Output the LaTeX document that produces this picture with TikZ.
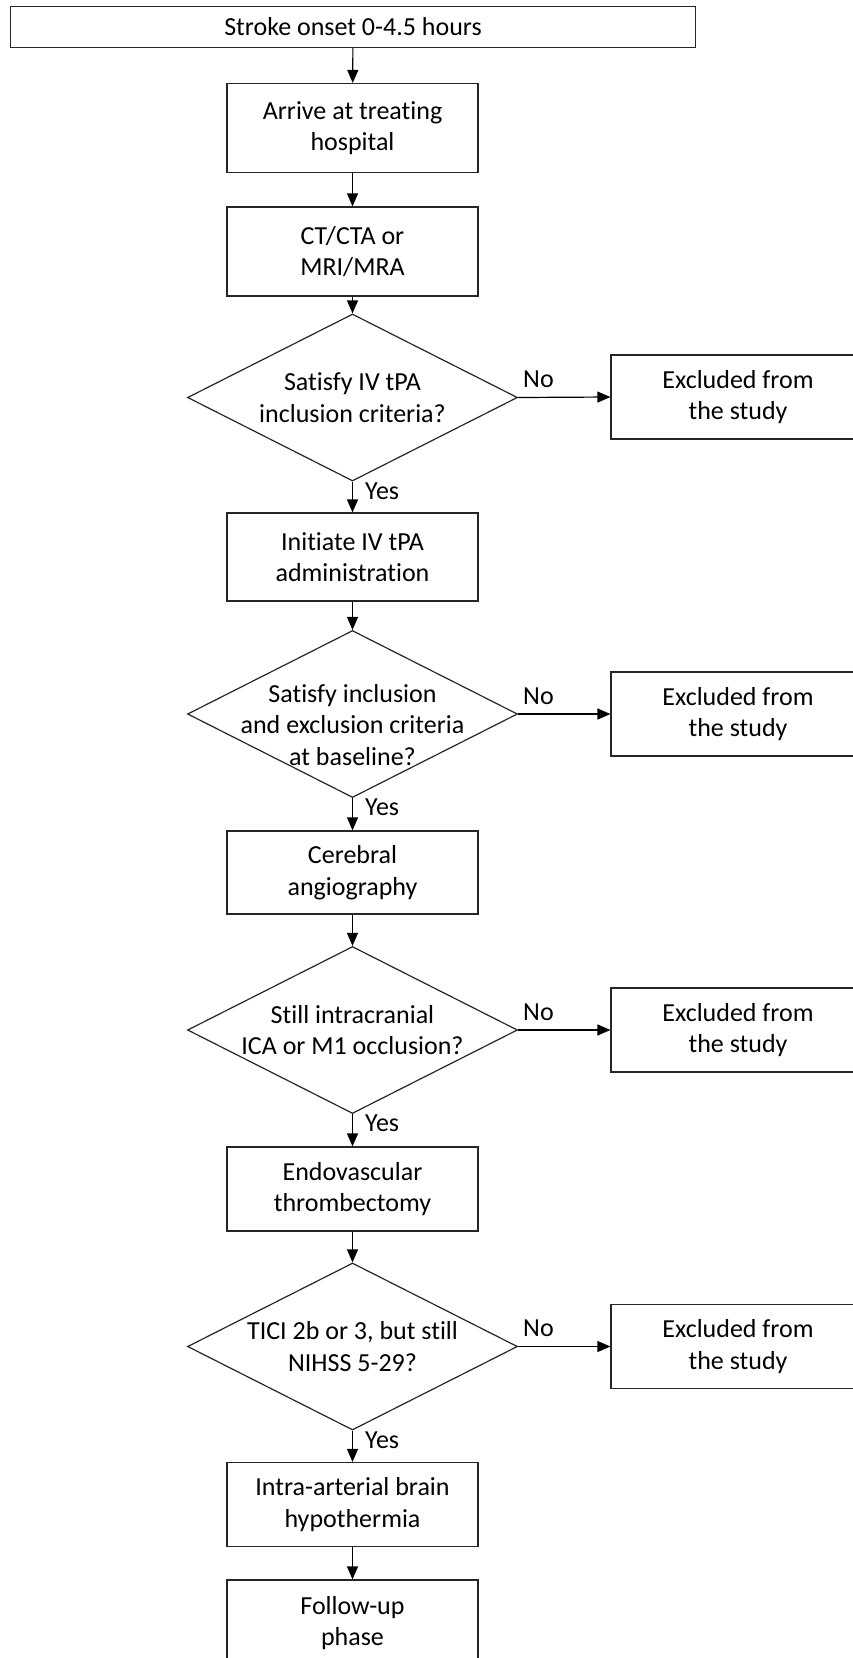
\documentclass[tikz,border=0pt]{standalone}
\usepackage{fontspec}
\setmainfont[Ligatures={NoCommon}]{Carlito}
\usetikzlibrary{shapes.geometric,arrows.meta}
\begin{document}
\begin{tikzpicture}[x=1pt,y=-1pt,
  every node/.style={font=\fontsize{26pt}{31.7pt}\selectfont},
  box/.style={draw=black!85,line width=1.2pt,rectangle,inner sep=0pt,minimum width=251pt,align=center},
  exbox/.style={draw=black!85,line width=1.2pt,rectangle,inner sep=0pt,minimum width=254pt,minimum height=84pt,align=center},
  dec/.style={draw=black!85,line width=1.2pt,diamond,inner sep=0pt,minimum width=330pt,minimum height=167pt},
  dectext/.style={align=center,inner sep=0pt},
  lbl/.style={inner sep=0pt,anchor=base west},
  arr/.style={line width=1.2pt,-{Triangle[length=13pt,width=11pt]}}
]
\useasboundingbox (0,0) rectangle (853,1658);

\node[box,minimum width=685pt,minimum height=41pt] (top) at (353,27) {Stroke onset 0-4.5 hours};
\node[box,minimum height=89pt] (b2) at (352.5,128) {Arrive at treating\\hospital};
\node[box,minimum height=89pt] (b3) at (352.5,251.5) {CT/CTA or\\MRI/MRA};

\node[dec] (d1) at (352.5,397.5) {};
\node[dectext] (d1t) at (d1.center) {Satisfy IV tPA\\inclusion criteria?};
\node[exbox] (e1) at (738,397) {Excluded from\\the study};

\node[box,minimum height=88pt] (b4) at (352.5,557) {Initiate IV tPA\\administration};

\node[dec] (d2) at (352.5,714) {};
\node[dectext] (d2t) at (352.5,725) {Satisfy inclusion\\and exclusion criteria\\at baseline?};
\node[exbox] (e2) at (738,714) {Excluded from\\the study};

\node[box,minimum height=83pt] (b5) at (352.5,872.5) {Cerebral\\angiography};

\node[dec] (d3) at (352.5,1030) {};
\node[dectext] (d3t) at (d3.center) {Still intracranial\\ICA or M1 occlusion?};
\node[exbox] (e3) at (738,1030) {Excluded from\\the study};

\node[box,minimum height=84pt] (b6) at (352.5,1189) {Endovascular\\thrombectomy};

\node[dec] (d4) at (352.5,1346.5) {};
\node[dectext] (d4t) at (d4.center) {TICI 2b or 3, but still\\NIHSS 5-29?};
\node[exbox] (e4) at (738,1346.5) {Excluded from\\the study};

\node[box,minimum height=84pt] (b7) at (352.5,1504.5) {Intra-arterial brain\\hypothermia};
\node[box,minimum height=86pt] (b8) at (352.5,1623) {Follow-up\\phase};

\draw[arr] (top) -- (b2);
\draw[arr] (b2) -- (b3);
\draw[arr] (b3) -- (d1.north);
\draw[arr] (d1.south) -- (b4);
\draw[arr] (d1.east) -- (e1.west);
\draw[arr] (b4) -- (d2.north);
\draw[arr] (d2.south) -- (b5);
\draw[arr] (d2.east) -- (e2.west);
\draw[arr] (b5) -- (d3.north);
\draw[arr] (d3.south) -- (b6);
\draw[arr] (d3.east) -- (e3.west);
\draw[arr] (b6) -- (d4.north);
\draw[arr] (d4.south) -- (b7);
\draw[arr] (d4.east) -- (e4.west);
\draw[arr] (b7) -- (b8);

\node[lbl] (n1) at (523,387) {No};
\node[lbl] (n2) at (523,704) {No};
\node[lbl] (n3) at (523,1020) {No};
\node[lbl] (n4) at (523,1336.5) {No};
\node[lbl] (y1) at (365,499) {Yes};
\node[lbl] (y2) at (365,815.5) {Yes};
\node[lbl] (y3) at (365,1131.5) {Yes};
\node[lbl] (y4) at (365,1448) {Yes};
\end{tikzpicture}
\end{document}
